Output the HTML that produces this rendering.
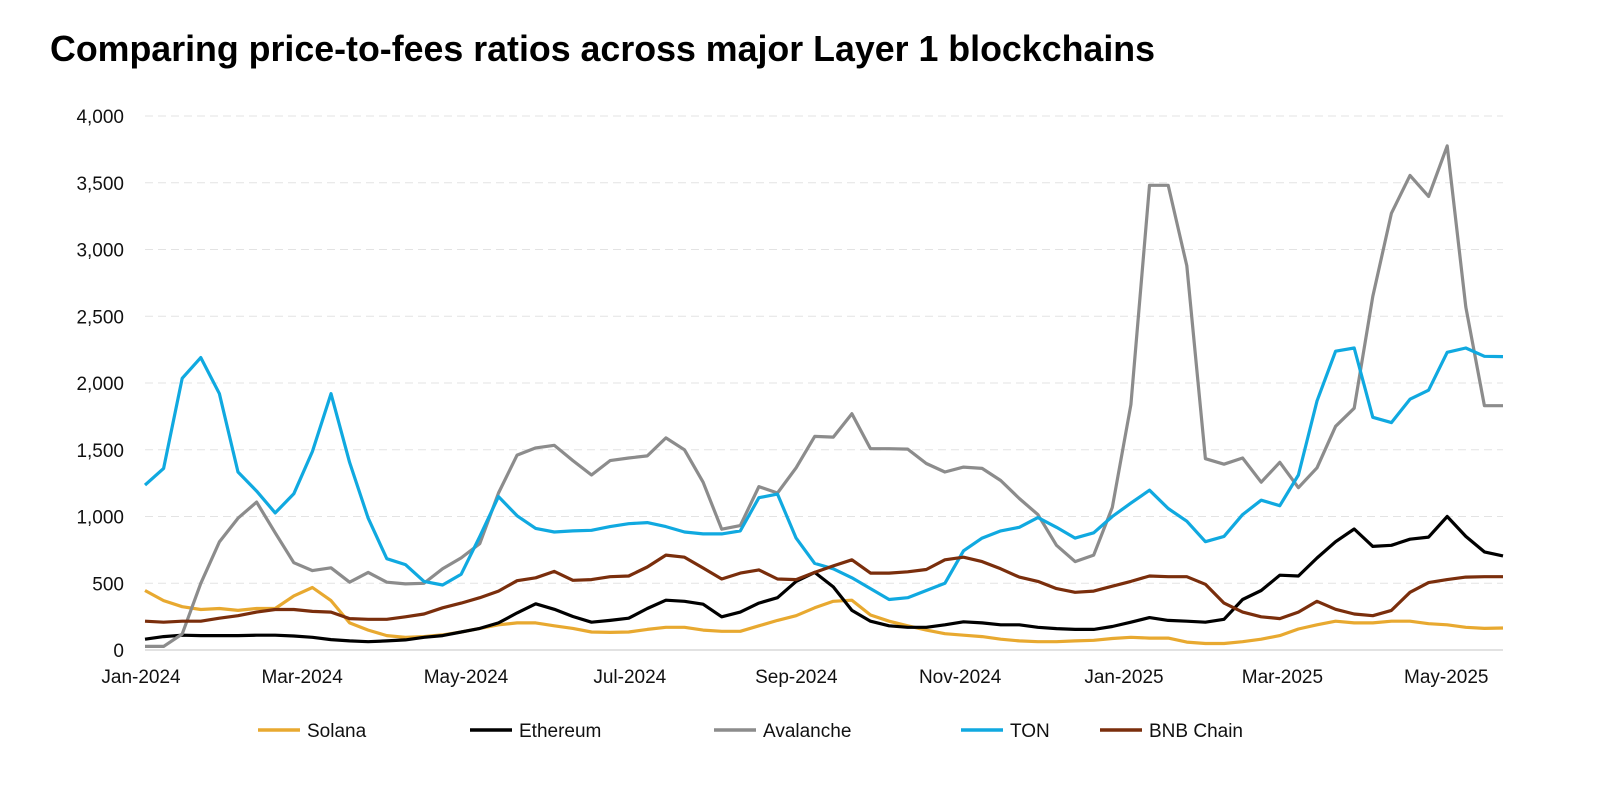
<!DOCTYPE html>
<html><head><meta charset="utf-8"><style>
body{margin:0;background:#fff;font-family:"Liberation Sans",sans-serif}
svg text{font-family:"Liberation Sans",sans-serif}
</style></head><body>
<svg id="chart" width="1600" height="791" viewBox="0 0 1600 791" xmlns="http://www.w3.org/2000/svg">
<text x="50" y="61" font-size="36" font-weight="bold" fill="#000" textLength="1105" lengthAdjust="spacingAndGlyphs">Comparing price-to-fees ratios across major Layer 1 blockchains</text>
<g id="grid"></g><g id="yaxis"></g><g id="xaxis"></g><g id="series"></g><g id="legend"></g>
</svg>
<script>
const yTicks=[0,500,1000,1500,2000,2500,3000,3500,4000];
const xTickLabels=["Jan-2024","Mar-2024","May-2024","Jul-2024","Sep-2024","Nov-2024","Jan-2025","Mar-2025","May-2025"];
const xTickDays=[0,60,121,182,244,305,366,425,486];
const seriesNames=["Solana","Ethereum","Avalanche","TON","BNB Chain"];
const seriesColors=["#E8A930","#000000","#8C8C8C","#10A9E0","#7A2E0C"];
const solana=[446,370,324,303,311,297,311,311,405,468,370,203,149,108,95,100,113,135,162,189,203,203,181,162,135,132,135,154,170,170,149,140,140,181,222,257,316,365,373,262,216,181,149,122,111,100,81,68,62,62,68,73,86,95,89,89,59,49,49,62,81,108,157,189,216,203,203,216,216,197,189,170,162,165];
const ethereum=[81,100,111,108,108,108,111,111,105,95,78,68,62,68,76,95,108,135,162,203,278,346,305,251,208,222,238,311,373,365,343,249,284,351,392,514,581,473,297,216,181,170,170,189,211,203,189,189,170,160,154,154,176,208,243,222,216,208,230,378,446,560,554,689,811,906,776,784,830,846,1000,851,735,705];
const avalanche=[27,27,120,500,810,987,1108,878,654,595,616,508,581,508,495,500,608,690,797,1176,1460,1514,1533,1419,1311,1419,1438,1454,1589,1500,1257,905,932,1224,1176,1365,1600,1595,1770,1508,1508,1505,1397,1333,1370,1360,1270,1135,1014,784,662,711,1068,1838,3481,3481,2879,1433,1392,1438,1257,1406,1216,1365,1676,1811,2649,3271,3555,3398,3776,2570,1830,1830];
const ton=[1235,1360,2035,2190,1920,1333,1190,1027,1170,1487,1920,1405,987,684,640,514,487,568,851,1149,1005,911,884,892,897,924,946,954,924,884,870,870,892,1141,1168,838,649,608,541,460,378,392,446,500,743,838,892,919,992,919,838,878,1000,1100,1197,1060,965,811,851,1014,1122,1081,1311,1865,2238,2262,1743,1703,1879,1946,2230,2262,2200,2198];
const bnb=[216,208,216,216,238,257,284,303,303,289,284,235,230,230,249,270,316,351,392,441,519,541,589,522,527,549,554,622,711,695,614,532,576,600,532,527,581,630,676,576,576,586,603,676,695,662,608,546,514,460,432,441,478,514,554,549,549,492,351,284,249,235,284,365,305,270,257,297,432,505,527,546,549,549];
const allSeries=[solana,ethereum,avalanche,ton,bnb];

const NS="http://www.w3.org/2000/svg";
const X0=145,X1=1503,Y0=650,Y1=116,N=solana.length;
function xs(i){return X0+i*(X1-X0)/(N-1);}
function xd(d){return 141+d*(18.8/7);}
function ys(v){return Y0-(v/4000)*(Y0-Y1);}
function mk(t,a,p){const e=document.createElementNS(NS,t);for(const k in a)e.setAttribute(k,a[k]);p.appendChild(e);return e;}
const grid=document.getElementById('grid'),ya=document.getElementById('yaxis'),xa=document.getElementById('xaxis'),sg=document.getElementById('series'),lg=document.getElementById('legend');
yTicks.forEach(v=>{
  const l=mk('line',{x1:X0,x2:X1,y1:ys(v),y2:ys(v),stroke:v===0?'#d9d9d9':'#e3e3e3','stroke-width':v===0?1.5:1,'stroke-dasharray':v===0?'none':'8 5'},grid);
  
  
  const t=mk('text',{x:124,y:ys(v)+7,'text-anchor':'end','font-size':19,fill:'#111'},ya);
  t.textContent=v.toLocaleString('en-US');
  
  
});
xTickLabels.forEach((s,k)=>{
  const t=mk('text',{x:xd(xTickDays[k]),y:683,'text-anchor':'middle','font-size':19,fill:'#111'},xa);
  t.textContent=s;
  
  
});
allSeries.forEach((arr,s)=>{
  const p=mk('polyline',{points:arr.map((v,i)=>xs(i).toFixed(1)+','+ys(v).toFixed(1)).join(' '),fill:'none',stroke:seriesColors[s],'stroke-width':3.2,'stroke-linejoin':'round'},sg);
  
  
});
const legX=[258,470,714,961,1100];
seriesNames.forEach((n,s)=>{
  const l=mk('line',{x1:legX[s],x2:legX[s]+42,y1:730,y2:730,stroke:seriesColors[s],'stroke-width':3.5},lg);
  
  
  const t=mk('text',{x:legX[s]+49,y:737,'font-size':19,fill:'#111'},lg);
  t.textContent=n;
  
  
});
</script>
</body></html>
